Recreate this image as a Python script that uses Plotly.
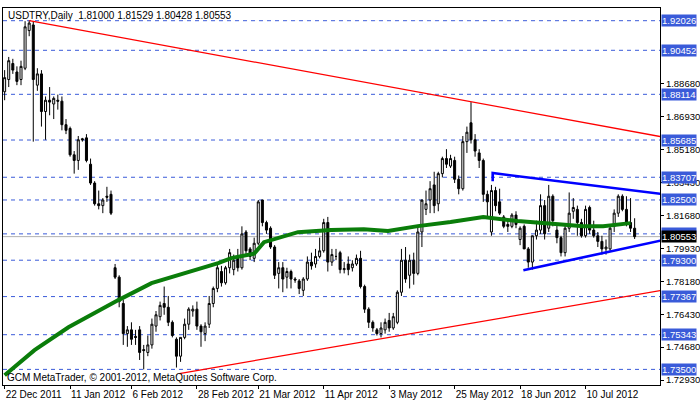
import plotly.graph_objects as go

# daily USDTRY candles (open, high, low, close)
opens = [1.8825, 1.8890, 1.8975, 1.8930, 1.8890, 1.8950, 1.9150, 1.9180, 1.8860, 1.8920,
         1.8720, 1.8780, 1.8760, 1.8780, 1.8775, 1.8650, 1.8630, 1.8490, 1.8460, 1.8575,
         1.8580, 1.8440, 1.8340, 1.8230, 1.8220, 1.8270, 1.8280,
         1.7890, 1.7840, 1.7700, 1.7540, 1.7560, 1.7525, 1.7560, 1.7455, 1.7440, 1.7480,
         1.7580, 1.7630, 1.7700, 1.7680, 1.7600, 1.7510, 1.7420, 1.7520, 1.7590, 1.7660,
         1.7670, 1.7580, 1.7540, 1.7590, 1.7700, 1.7780, 1.7870, 1.7810, 1.7890,
         1.7880, 1.7940, 1.7890, 1.8080, 1.7990, 1.7940, 1.8020, 1.8250, 1.8130, 1.8100,
         1.8000, 1.7860, 1.7890, 1.7840, 1.7870, 1.7830, 1.7820, 1.7770, 1.7830, 1.7920,
         1.7910, 1.7950, 1.7980, 1.8130, 1.7920, 1.7950, 1.7970, 1.7880, 1.7910, 1.7890,
         1.7910, 1.7940, 1.7790, 1.7670, 1.7600, 1.7560, 1.7540, 1.7560, 1.7610, 1.7570,
         1.7600, 1.7760, 1.7930, 1.7850, 1.7930, 1.7860, 1.8080, 1.8200, 1.8250, 1.8330,
         1.8230, 1.8390, 1.8470, 1.8430, 1.8460, 1.8360, 1.8310, 1.8560, 1.8660, 1.8570,
         1.8500, 1.8460, 1.8280, 1.8080, 1.8300, 1.8240, 1.8160,
         1.8120, 1.8110, 1.8170, 1.8040, 1.8110, 1.7990, 1.7920, 1.8060, 1.8090, 1.8220,
         1.8100, 1.8270, 1.8090, 1.8050, 1.7970, 1.8100, 1.8190, 1.8200, 1.8130, 1.8060,
         1.8210, 1.8090, 1.8060, 1.8030, 1.7990, 1.7990, 1.8110, 1.8180, 1.8270, 1.8200,
         1.8130, 1.8100]
highs = [1.8940, 1.9010, 1.9000, 1.8960, 1.8990, 1.9200, 1.9203, 1.9200, 1.8950, 1.8940,
         1.8800, 1.8850, 1.8800, 1.8810, 1.8800, 1.8680, 1.8640, 1.8510, 1.8590, 1.8580,
         1.8600, 1.8470, 1.8350, 1.8300, 1.8260, 1.8320, 1.8300,
         1.7910, 1.7850, 1.7720, 1.7580, 1.7600, 1.7560, 1.7580, 1.7480, 1.7530, 1.7620,
         1.7660, 1.7710, 1.7790, 1.7740, 1.7610, 1.7520, 1.7520, 1.7620, 1.7680, 1.7690,
         1.7710, 1.7590, 1.7600, 1.7740, 1.7790, 1.7910, 1.7900, 1.7900, 1.7990,
         1.7960, 1.7990, 1.8110, 1.8090, 1.8000, 1.8050, 1.8250, 1.8250, 1.8140, 1.8110,
         1.8010, 1.7920, 1.7920, 1.7890, 1.7880, 1.7840, 1.7830, 1.7840, 1.7950, 1.7970,
         1.7990, 1.8050, 1.8150, 1.8160, 1.7990, 1.7990, 1.7980, 1.7920, 1.7950, 1.7930,
         1.7960, 1.7980, 1.7800, 1.7680, 1.7610, 1.7570, 1.7600, 1.7620, 1.7650, 1.7650,
         1.7770, 1.7990, 1.8000, 1.7960, 1.7970, 1.8110, 1.8240, 1.8300, 1.8350, 1.8400,
         1.8400, 1.8480, 1.8520, 1.8490, 1.8480, 1.8380, 1.8590, 1.8640, 1.8770, 1.8600,
         1.8520, 1.8470, 1.8300, 1.8330, 1.8320, 1.8310, 1.8170,
         1.8150, 1.8180, 1.8190, 1.8110, 1.8120, 1.8000, 1.8060, 1.8140, 1.8280, 1.8250,
         1.8330, 1.8280, 1.8120, 1.8060, 1.8120, 1.8290, 1.8260, 1.8220, 1.8150, 1.8220,
         1.8220, 1.8140, 1.8080, 1.8060, 1.8040, 1.8110, 1.8200, 1.8280, 1.8280, 1.8270,
         1.8260, 1.81529]
lows = [1.8780, 1.8850, 1.8920, 1.8860, 1.8860, 1.8940, 1.9120, 1.8560, 1.8830, 1.8640,
        1.8570, 1.8700, 1.8680, 1.8730, 1.8620, 1.8600, 1.8480, 1.8390, 1.8410, 1.8560,
        1.8450, 1.8330, 1.8220, 1.8200, 1.8180, 1.8240, 1.8170,
        1.7830, 1.7680, 1.7480, 1.7470, 1.7480, 1.7480, 1.7400, 1.7350, 1.7420, 1.7460,
        1.7550, 1.7610, 1.7640, 1.7580, 1.7520, 1.7360, 1.7390, 1.7510, 1.7560, 1.7630,
        1.7560, 1.7470, 1.7500, 1.7570, 1.7680, 1.7760, 1.7790, 1.7800, 1.7860,
        1.7850, 1.7870, 1.7880, 1.7960, 1.7930, 1.7920, 1.8010, 1.8110, 1.8070, 1.7990,
        1.7830, 1.7780, 1.7760, 1.7780, 1.7780, 1.7810, 1.7750, 1.7740, 1.7820, 1.7880,
        1.7890, 1.7940, 1.7970, 1.7870, 1.7900, 1.7930, 1.7860, 1.7860, 1.7850, 1.7870,
        1.7900, 1.7780, 1.7650, 1.7570, 1.7550, 1.7530, 1.7520, 1.7540, 1.7550, 1.7560,
        1.7590, 1.7740, 1.7810, 1.7780, 1.7800, 1.7850, 1.8000, 1.8170, 1.8180, 1.8180,
        1.8190, 1.8370, 1.8420, 1.8420, 1.8340, 1.8280, 1.8300, 1.8500, 1.8550, 1.8480,
        1.8420, 1.8240, 1.8160, 1.8060, 1.8190, 1.8170, 1.8100,
        1.8080, 1.8100, 1.8100, 1.8010, 1.7990, 1.7890, 1.7880, 1.8040, 1.8070, 1.8040,
        1.8080, 1.8110, 1.8020, 1.7950, 1.7950, 1.8080, 1.8150, 1.8060, 1.8050, 1.8050,
        1.8070, 1.8050, 1.8000, 1.7960, 1.7960, 1.7980, 1.8080, 1.8160, 1.8190, 1.8110,
        1.8080, 1.80428]
closes = [1.8900, 1.8990, 1.8940, 1.8880, 1.8960, 1.9170, 1.9190, 1.8890, 1.8920, 1.8720,
          1.8780, 1.8770, 1.8790, 1.8775, 1.8650, 1.8620, 1.8490, 1.8460, 1.8570, 1.8570,
          1.8460, 1.8340, 1.8230, 1.8220, 1.8250, 1.8265, 1.8180,
          1.7840, 1.7710, 1.7540, 1.7560, 1.7510, 1.7520, 1.7440, 1.7450, 1.7480, 1.7590,
          1.7640, 1.7690, 1.7680, 1.7600, 1.7530, 1.7420, 1.7520, 1.7590, 1.7670, 1.7670,
          1.7580, 1.7550, 1.7580, 1.7700, 1.7780, 1.7890, 1.7810, 1.7890, 1.7970,
          1.7930, 1.7890, 1.8070, 1.7980, 1.7950, 1.8020, 1.8240, 1.8130, 1.8090, 1.8000,
          1.7850, 1.7890, 1.7830, 1.7870, 1.7830, 1.7825, 1.7780, 1.7830, 1.7920, 1.7900,
          1.7950, 1.7980, 1.8130, 1.7920, 1.7960, 1.7950, 1.7880, 1.7885, 1.7880, 1.7910,
          1.7940, 1.7790, 1.7670, 1.7600, 1.7570, 1.7540, 1.7570, 1.7600, 1.7570, 1.7630,
          1.7760, 1.7930, 1.7830, 1.7930, 1.7860, 1.8080, 1.8250, 1.8230, 1.8310, 1.8220,
          1.8390, 1.8470, 1.8440, 1.8470, 1.8360, 1.8310, 1.8560, 1.8610, 1.8570, 1.8510,
          1.8460, 1.8280, 1.8240, 1.8300, 1.8220, 1.8180, 1.8110,
          1.8110, 1.8170, 1.8120, 1.8100, 1.7990, 1.7920, 1.8060, 1.8090, 1.8220, 1.8070,
          1.8270, 1.8140, 1.8050, 1.7970, 1.8100, 1.8180, 1.8210, 1.8130, 1.8060, 1.8200,
          1.8090, 1.8060, 1.8030, 1.7990, 1.8000, 1.8100, 1.8180, 1.8270, 1.8200, 1.8130,
          1.8100, 1.80553]
bars = list(range(len(closes)))

# moving average read at sample bars
ma_x = [0, 7.3, 15.6, 23.7, 27.8, 35.9, 43.9, 52.2, 55.4, 61, 63.4, 71.7, 79.8, 87.8,
        93.7, 101, 109, 117, 125.4, 133.4, 141.5, 146.3, 153]
ma_y = [1.7319, 1.7452, 1.7574, 1.7670, 1.7718, 1.7808, 1.7861, 1.7914, 1.7941, 1.7965,
        1.8026, 1.8079, 1.8090, 1.8095, 1.8085, 1.8111, 1.8133, 1.8159, 1.8138, 1.8127,
        1.8111, 1.8111, 1.8127]

# trend lines (bar, price)
red_top = ([6, 161], [1.9203, 1.8584])
red_bottom = ([42.7, 161], [1.7328, 1.7771])
blue_top = ([119.3, 119.3, 161], [1.8350, 1.8393, 1.8281])
blue_bottom = ([126.8, 161], [1.7877, 1.8037])

levels = [1.92026, 1.90452, 1.88114, 1.85685, 1.83707, 1.82500, 1.80700, 1.79300,
          1.77367, 1.75343, 1.73500]
axis_ticks = [1.88680, 1.86930, 1.85180, 1.83430, 1.81680, 1.79930, 1.78180,
              1.76430, 1.74680, 1.72930]
date_pos = [0, 16, 31, 47, 62, 78, 94, 110, 126, 142]
date_labels = ["22 Dec 2011", "11 Jan 2012", "6 Feb 2012", "28 Feb 2012", "21 Mar 2012",
               "11 Apr 2012", "3 May 2012", "25 May 2012", "18 Jun 2012", "10 Jul 2012"]
last_price = 1.80553

FONT = "Liberation Sans"
FS = 10
RFS = 9.5
XR = [-0.4, 160.2]
LEVEL_BLUE = "#3a5bd9"

fig = go.Figure()

for lv in levels:
    fig.add_shape(type="line", xref="paper", x0=0, x1=1, y0=lv, y1=lv,
                  line=dict(color=LEVEL_BLUE, width=1, dash="4px,4px"), layer="below")
fig.add_shape(type="line", xref="paper", x0=0, x1=1, y0=last_price, y1=last_price,
              line=dict(color="#b0b0b0", width=1), layer="below")

fig.add_trace(go.Scatter(x=ma_x, y=ma_y, mode="lines",
                         line=dict(color="#0a7d0a", width=4), hoverinfo="skip"))

fig.add_trace(go.Candlestick(
    x=bars, open=opens, high=highs, low=lows, close=closes,
    increasing=dict(line=dict(color="black", width=1), fillcolor="white"),
    decreasing=dict(line=dict(color="black", width=1), fillcolor="black"),
    whiskerwidth=0))

for (lx, ly), col in [(red_top, "red"), (red_bottom, "red"),
                      (blue_top, "blue"), (blue_bottom, "blue")]:
    fig.add_trace(go.Scatter(x=lx, y=ly, mode="lines", hoverinfo="skip",
                             line=dict(color=col, width=1.3 if col == "red" else 2.6)))

ann = []
for lv in levels:
    ann.append(dict(xref="paper", x=1.0, xanchor="left", xshift=1, y=lv, yanchor="middle",
                    text="%.5f" % lv, showarrow=False, bgcolor=LEVEL_BLUE,
                    font=dict(color="white", size=RFS, family=FONT), borderpad=0))
ann.append(dict(xref="paper", x=1.0, xanchor="left", xshift=1, y=last_price, yanchor="middle",
                text="%.5f" % last_price, showarrow=False, bgcolor="black",
                font=dict(color="white", size=RFS, family=FONT), borderpad=0))
ann.append(dict(xref="paper", yref="paper", x=0.005, y=1.0, xanchor="left", yanchor="top",
                text="USDTRY,Daily  1.81000 1.81529 1.80428 1.80553", showarrow=False,
                font=dict(color="black", size=FS, family=FONT)))
ann.append(dict(xref="paper", yref="paper", x=0.003, y=0.0, xanchor="left", yanchor="bottom",
                text="GCM MetaTrader, © 2001-2012, MetaQuotes Software Corp.", showarrow=False,
                font=dict(color="black", size=FS, family=FONT)))

fig.update_layout(
    width=700, height=402,
    margin=dict(l=3, r=40, t=8, b=17, autoexpand=False),
    paper_bgcolor="white", plot_bgcolor="white",
    showlegend=False,
    font=dict(family=FONT, size=FS, color="black"),
    annotations=ann,
    xaxis=dict(range=XR, rangeslider=dict(visible=False), showgrid=False, automargin=False,
               tickmode="array", tickvals=date_pos, ticktext=date_labels, tickangle=0,
               ticklabelposition="outside right",
               ticks="outside", ticklen=3, tickcolor="black", tickfont=dict(size=FS),
               showline=True, linecolor="black", mirror=True, zeroline=False),
    yaxis=dict(range=[1.7267, 1.9270], side="right", showgrid=False, automargin=False,
               tickmode="array", tickvals=axis_ticks, tickformat=".5f",
               ticks="outside", ticklen=3, tickcolor="black", tickfont=dict(size=RFS),
               showline=True, linecolor="black", mirror=True, zeroline=False),
)

fig.write_html("out.html", config={"displayModeBar": False},
               post_script="document.body.style.margin='0';")
